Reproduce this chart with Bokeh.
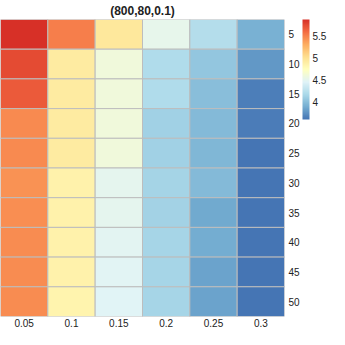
from bokeh.plotting import figure
from bokeh.models import ColumnDataSource, LinearColorMapper, ColorBar, FixedTicker, FactorRange
from bokeh.embed import file_html
from bokeh.resources import INLINE

x_labels = ["0.05", "0.1", "0.15", "0.2", "0.25", "0.3"]
y_labels = ["5", "10", "15", "20", "25", "30", "35", "40", "45", "50"]

# values per column (x label), listed for y = 5 ... 50
v005 = [5.88, 5.75, 5.68, 5.47, 5.47, 5.43, 5.45, 5.46, 5.46, 5.46]
v010 = [5.52, 4.92, 4.92, 4.92, 4.92, 4.86, 4.86, 4.86, 4.86, 4.84]
v015 = [4.95, 4.60, 4.60, 4.60, 4.60, 4.50, 4.50, 4.49, 4.48, 4.47]
v020 = [4.52, 4.20, 4.20, 4.12, 4.12, 4.14, 4.13, 4.15, 4.15, 4.15]
v025 = [4.22, 4.05, 4.00, 3.97, 3.95, 3.97, 3.87, 3.89, 3.84, 3.84]
v030 = [3.92, 3.78, 3.65, 3.64, 3.60, 3.60, 3.60, 3.60, 3.60, 3.60]
columns = [v005, v010, v015, v020, v025, v030]

color_ticks = [4, 4.5, 5, 5.5]
title_text = "(800,80,0.1)"

base = ["#4575b4", "#74add1", "#abd9e9", "#e0f3f8", "#ffffbf",
        "#fee090", "#fdae61", "#f46d43", "#d73027"]

def hex2rgb(h):
    return [int(h[i:i + 2], 16) for i in (1, 3, 5)]

palette = []
n = 256
for i in range(n):
    t = i / (n - 1) * (len(base) - 1)
    k = min(int(t), len(base) - 2)
    f = t - k
    a, b = hex2rgb(base[k]), hex2rgb(base[k + 1])
    c = [round(a[j] + (b[j] - a[j]) * f) for j in range(3)]
    palette.append("#%02x%02x%02x" % tuple(c))

xs, ys, vs = [], [], []
for xl, col in zip(x_labels, columns):
    for yl, v in zip(y_labels, col):
        xs.append(xl)
        ys.append(yl)
        vs.append(v)

src = ColumnDataSource(dict(x=xs, y=ys, v=vs))
mapper = LinearColorMapper(palette=palette, low=min(vs), high=max(vs))

p = figure(width=329, height=329, output_backend="svg", toolbar_location=None,
           x_range=FactorRange(*x_labels), y_range=FactorRange(*reversed(y_labels)),
           y_axis_location="right", title=title_text,
           min_border_left=0, min_border_right=0, min_border_top=0, min_border_bottom=0)
p.rect(x="x", y="y", width=1, height=1, source=src,
       fill_color={"field": "v", "transform": mapper},
       line_color="#bdbdbd", line_width=1)

p.title.align = "center"
p.title.text_font = "Liberation Sans"
p.title.text_font_size = "12px"
p.title.text_font_style = "bold"
p.title.text_color = "#222222"
p.title.standoff = 3
p.outline_line_color = None
p.grid.visible = False
p.x_range.range_padding = 0
p.y_range.range_padding = 0
for ax in (p.xaxis[0], p.yaxis[0]):
    ax.axis_label = None
    ax.axis_label_standoff = 0
    ax.axis_line_color = None
    ax.major_tick_line_color = None
    ax.minor_tick_line_color = None
    ax.major_tick_out = 0
    ax.major_tick_in = 0
    ax.minor_tick_out = 0
    ax.minor_tick_in = 0
    ax.major_label_text_font = "Liberation Sans"
    ax.major_label_text_font_size = "10px"
    ax.major_label_text_color = "#222222"
p.xaxis[0].major_label_standoff = 2
p.yaxis[0].major_label_standoff = 4

cb = ColorBar(color_mapper=mapper, ticker=FixedTicker(ticks=color_ticks),
              width=7, height=100, location="top_left", padding=0, margin=0,
              major_tick_line_color=None, major_tick_out=0, major_tick_in=0,
              minor_tick_out=0, minor_tick_in=0, bar_line_color=None,
              major_label_text_font="Liberation Sans",
              major_label_text_font_size="10px",
              major_label_text_color="#222222", label_standoff=3,
              background_fill_alpha=0)
p.add_layout(cb, "right")

open("out.html", "w").write(file_html(p, INLINE))
